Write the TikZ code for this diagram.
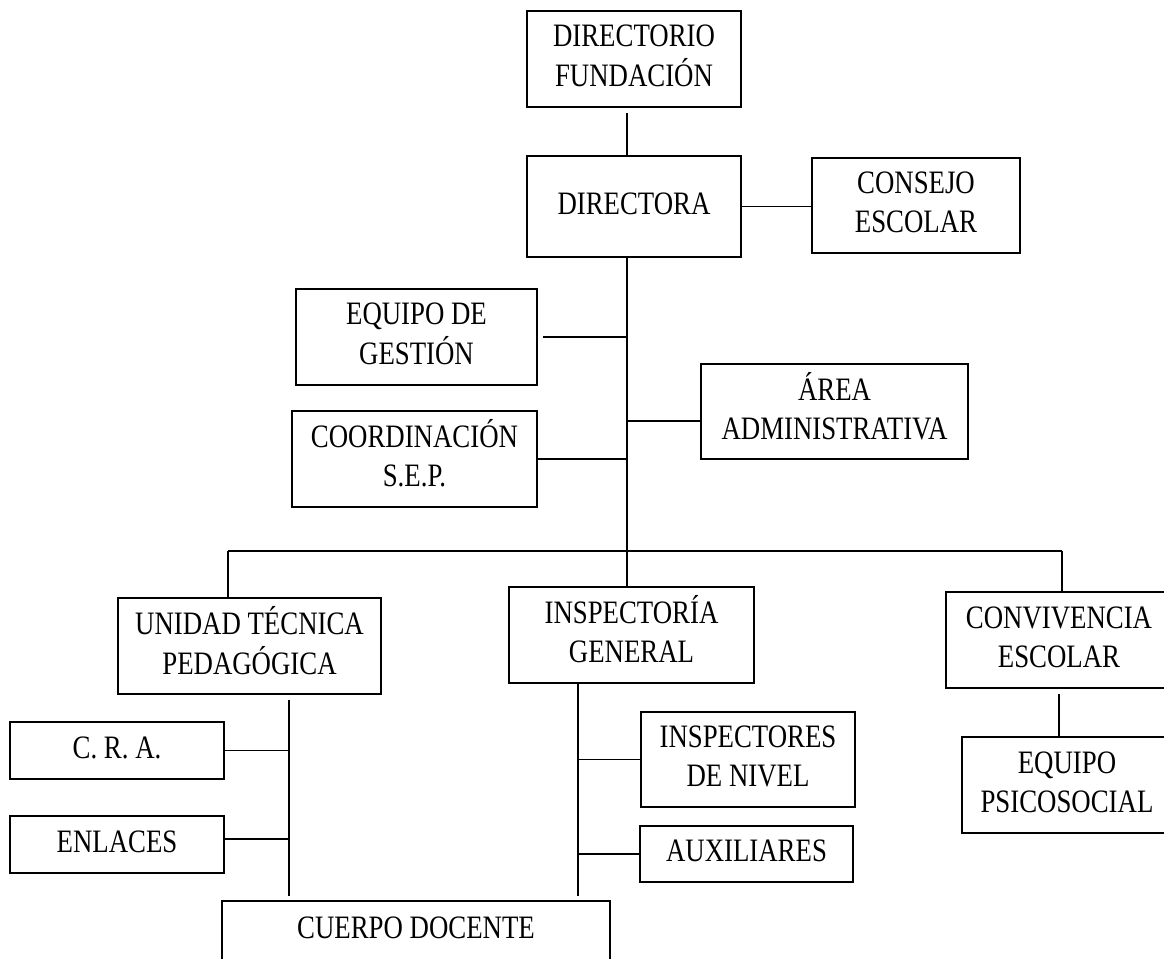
\documentclass[tikz,border=0pt]{standalone}
\usepackage{fontspec}
\setmainfont{Liberation Serif}
\usetikzlibrary{positioning, calc}

\newcommand{\orgtxt}[1]{\scalebox{0.82}[1]{\begin{tabular}{@{}c@{}}#1\end{tabular}}}

\begin{document}
\begin{tikzpicture}[x=0.5pt, y=-0.5pt, line width=0.8pt,
    unit/.style={draw, inner sep=0pt, minimum height=48pt,
      font=\fontsize{16.35pt}{19.5pt}\selectfont},
    flat/.style={minimum height=28.5pt},
    gap/.style={shorten <=2.5pt}]
  \useasboundingbox (0,0) rectangle (1164,959);

  % Direction
  \node[unit, minimum width=107pt] (dirfund) at (634,59) {\orgtxt{DIRECTORIO\\FUNDACIÓN}};
  \node[unit, minimum width=107pt, minimum height=50.5pt] (directora) at (634,206.5) {\orgtxt{DIRECTORA}};
  \node[unit, minimum width=104pt, minimum height=47.5pt] (consejo) at (916,205.5) {\orgtxt{CONSEJO\\ESCOLAR}};

  % Staff units
  \node[unit, minimum width=120.5pt] (equipo) at (416.5,337) {\orgtxt{EQUIPO DE\\GESTIÓN}};
  \node[unit, minimum width=122.5pt] (coord) at (414.5,459) {\orgtxt{COORDINACIÓN\\S.E.P.}};
  \node[unit, minimum width=133.5pt, minimum height=47.5pt] (area) at (834.5,411.5) {\orgtxt{ÁREA\\ADMINISTRATIVA}};

  % Main areas
  \node[unit, minimum width=131.5pt] (utp) at (249.5,646) {\orgtxt{UNIDAD TÉCNICA\\PEDAGÓGICA}};
  \node[unit, minimum width=122.5pt] (insp) at (631.5,635) {\orgtxt{INSPECTORÍA\\GENERAL}};
  \node[unit, minimum width=113pt] (conv) at (1059,640) {\orgtxt{CONVIVENCIA\\ESCOLAR}};

  % Sub units
  \node[unit, flat, minimum width=107pt] (cra) at (117,750.5) {\orgtxt{C. R. A.}};
  \node[unit, flat, minimum width=107pt] (enlaces) at (117,844.5) {\orgtxt{ENLACES}};
  \node[unit, minimum width=107pt, minimum height=47.5pt] (inspniv) at (748,759.5) {\orgtxt{INSPECTORES\\DE NIVEL}};
  \node[unit, flat, minimum width=106.5pt, minimum height=28pt] (aux) at (746.5,854) {\orgtxt{AUXILIARES}};
  \node[unit, minimum width=105pt] (psico) at (1067,785) {\orgtxt{EQUIPO\\PSICOSOCIAL}};
  \node[unit, minimum width=194pt, minimum height=30pt] (cuerpo) at (416,931) {\orgtxt{CUERPO DOCENTE}};

  % Spine
  \coordinate (spine) at (627,257);
  \draw[gap] (dirfund.south -| spine) -- (directora.north -| spine);
  \draw (directora.east) -- (directora.east -| consejo.west);
  \draw (directora.south -| spine) -- (insp.north -| spine);
  \draw[gap] (equipo.east) -- (equipo.east -| spine);
  \draw (coord.east) -- (coord.east -| spine);
  \draw ([yshift=-4.75pt]area.west) -- ([yshift=-4.75pt]area.west -| spine);

  % Bus
  \coordinate (busL) at (228,551);
  \coordinate (busR) at (1062,551);
  \draw (busL) -- (busR);
  \draw (busL) -- (utp.north -| busL);
  \draw (busR) -- (conv.north -| busR);

  % Branches
  \coordinate (utpfoot) at (289,896);
  \draw[gap] (utp.south -| utpfoot) -- (utpfoot);
  \draw (cra.east) -- (cra.east -| utpfoot);
  \draw ([yshift=2.75pt]enlaces.east) -- ([yshift=2.75pt]enlaces.east -| utpfoot);
  \coordinate (inspfoot) at (578,896);
  \draw (insp.south -| inspfoot) -- (inspfoot);
  \draw (inspniv.west) -- (inspniv.west -| inspfoot);
  \draw (aux.west) -- (aux.west -| inspfoot);
  \draw[gap] (conv.south) -- (conv.south |- psico.north);
\end{tikzpicture}
\end{document}
